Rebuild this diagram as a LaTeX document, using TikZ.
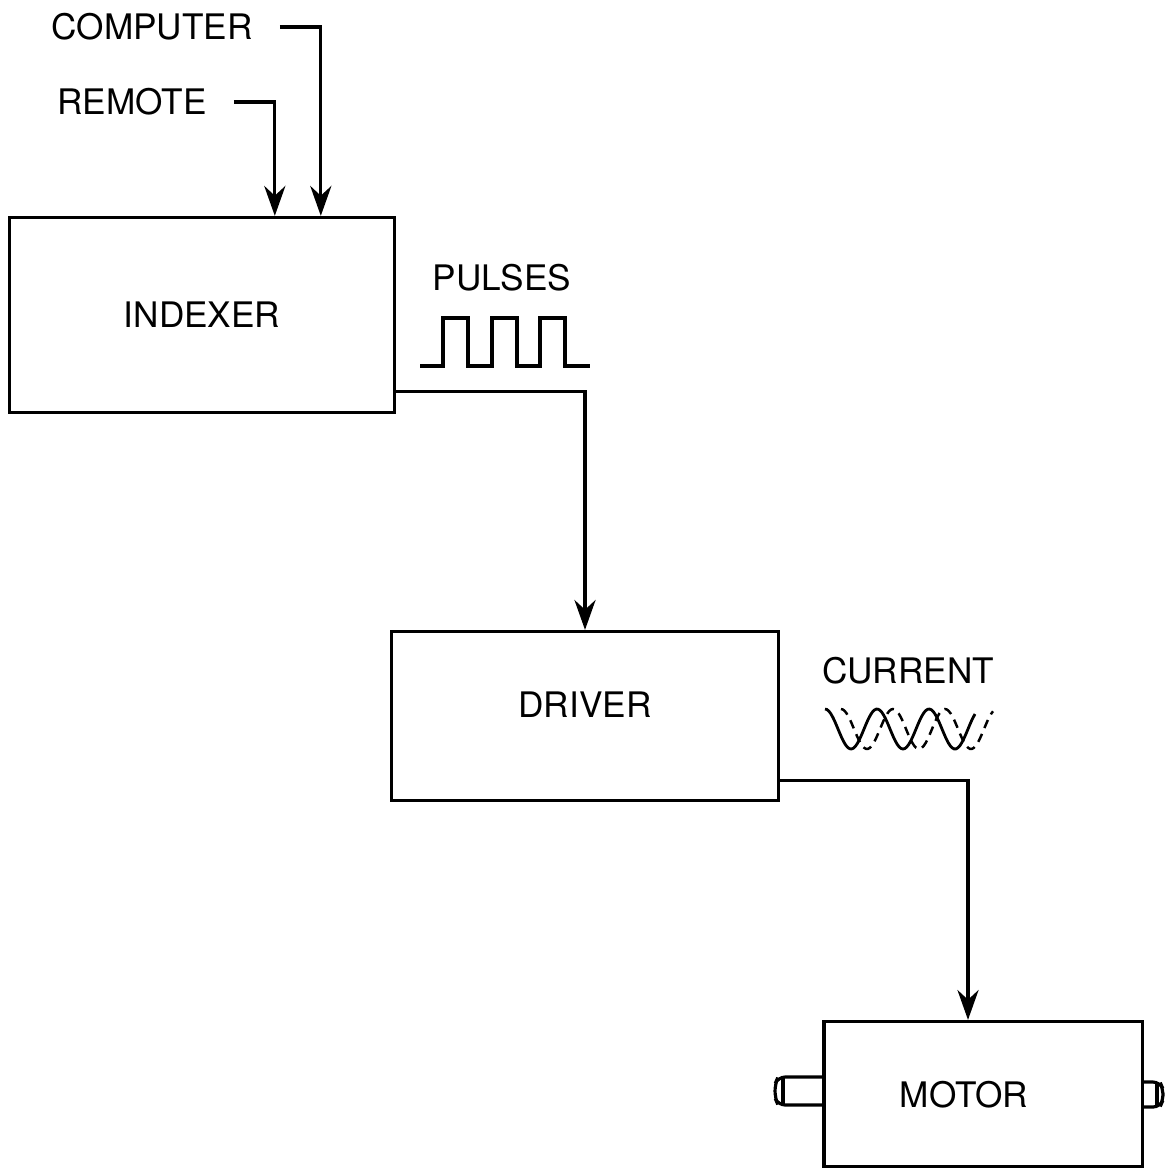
\documentclass[tikz,border=0pt]{standalone}
\usepackage{fontspec}
\setmainfont{TeX Gyre Heros}
\usetikzlibrary{arrows.meta}

\begin{document}
\begin{tikzpicture}[x=0.01cm, y=-0.01cm, >={Stealth[length=8.5pt,width=6pt]},
  line width=0.9pt, font=\fontsize{10}{12}\selectfont,
  block/.style={draw, line width=0.9pt, inner sep=0pt},
  feed/.style={->, shorten <=0.14cm}]
  \useasboundingbox (0,0) rectangle (1174,1170);
  % boxes
  \node[block, minimum width=3.85cm, minimum height=1.95cm] (indexer) at (202,315) {INDEXER};
  \node[block, minimum width=3.87cm, minimum height=1.69cm] (driver) at (585,716) {\raisebox{0.22cm}{DRIVER}};
  \node[block, minimum width=3.18cm, minimum height=1.45cm] (motor) at (983,1094) {};
  \node (motortxt) at (964,1095) {MOTOR};
  % inputs
  \node (computer) at (152,27) {COMPUTER};
  \node (remote) at (132,102) {REMOTE};
  \path (indexer.north west) ++(267,0) coordinate (remin) ++(46,0) coordinate (compin);
  \draw[feed] (computer.east) -| (compin);
  \draw[feed] (remote.east) -| (remin);
  % signals
  \node (pulses) at (502,278) {PULSES};
  \node (current) at (908,671) {CURRENT};
  \draw (420,366) -- (443,366)
    \foreach \p in {443,492,540} { -- (\p,366) -- (\p,318) -- (\p+25,318) -- (\p+25,366) }
    -- (590,366);
  \draw[line width=0.8pt, domain=0:150, samples=80, smooth]
    plot ({825+\x}, {729-20*cos(\x/52*360)});
  \draw[line width=0.7pt, dash pattern=on 2.5pt off 1.8pt, domain=0:152, samples=80, smooth]
    plot ({841+\x}, {729-20*cos(\x/52*360)});
  \draw[->] ([yshift=0.23cm]indexer.south east) -| (driver.north);
  \draw[->] ([yshift=0.22cm]driver.south east) -| ([xshift=-0.15cm]motor.north);
  % shafts
  \draw[rounded corners=2pt] (824,1077) -- (778,1077) -- (775,1084) -- (775,1098) -- (778,1105) -- (824,1105);
  \draw (783,1077) -- (783,1105);
  \draw[rounded corners=2pt] (1142,1082) -- (1160,1082) -- (1163,1089) -- (1163,1100) -- (1160,1107) -- (1142,1107);
  \draw (1157,1082) -- (1157,1107);
\end{tikzpicture}
\end{document}
